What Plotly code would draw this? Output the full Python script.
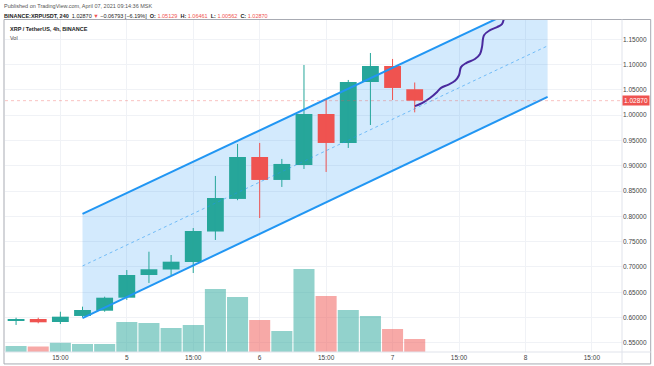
import plotly.graph_objects as go

# ---- data (4h candles, XRP/USDT, Binance) ----
idx = list(range(19))
opens  = [0.5943, 0.5972, 0.5913, 0.6032, 0.6136, 0.6393, 0.6842, 0.6950, 0.7099, 0.7701,
          0.8345, 0.9174, 0.8720, 0.9016, 1.0024, 0.9451, 1.0656, 1.0972, 1.05129]
highs  = [0.5998, 0.5998, 0.6116, 0.6216, 0.6413, 0.6940, 0.7302, 0.7237, 0.7770, 0.8799,
          0.9431, 0.9451, 0.9135, 1.0992, 1.0300, 1.0696, 1.1229, 1.1111, 1.06461]
lows   = [0.5854, 0.5887, 0.5873, 0.6010, 0.6116, 0.6348, 0.6684, 0.6840, 0.6881, 0.7534,
          0.8320, 0.7968, 0.8582, 0.8937, 0.8878, 0.9352, 0.9806, 1.0300, 1.00562]
closes = [0.5962, 0.5907, 0.6018, 0.6150, 0.6393, 0.6842, 0.6955, 0.7105, 0.7711, 0.8364,
          0.9174, 0.8720, 0.9036, 1.0024, 0.9451, 1.0656, 1.0972, 1.0538, 1.02870]
volumes = [60, 55, 92, 80, 80, 300, 290, 240, 270, 630,
           550, 320, 210, 830, 560, 420, 360, 230, 130]   # millions

# channel (start / end candle index, lower, middle, upper prices)
chan_x = [3, 24]
chan_lower = [0.599, 1.036]
chan_mid = [0.702, 1.137]
chan_upper = [0.805, 1.238]

# projected path
path_x = [18.01, 18.33, 18.69, 19.01, 19.19, 19.50, 19.82, 20.00, 20.09, 20.32,
          20.72, 20.95, 21.04, 21.13, 21.40, 21.72, 21.94, 22.03]
path_y = [1.018, 1.024, 1.034, 1.046, 1.054, 1.060, 1.068, 1.079, 1.095, 1.103,
          1.111, 1.121, 1.135, 1.158, 1.168, 1.174, 1.180, 1.192]

last_price = 1.02870
x_tickvals = [2, 5, 8, 11, 14, 17, 20, 23, 26]
x_ticktext = ["15:00", "5", "15:00", "6", "15:00", "7", "15:00", "8", "15:00"]

GREEN = "#26a69a"
RED = "#ef5350"
BLUE = "#2196f3"
FONT = "Liberation Sans"
Y_RANGE = [0.532, 1.1881]

up = [c >= o for o, c in zip(opens, closes)]
vol_colors = ["rgba(38,166,154,0.5)" if u else "rgba(239,83,80,0.5)" for u in up]
body_colors = [GREEN if u else RED for u in up]
body_size = [max(abs(c - o), 0.0012) for o, c in zip(opens, closes)]
body_base = [min(o, c) for o, c in zip(opens, closes)]


def wick_xy(want_up):
    xs, ys = [], []
    for i, u, lo, hi in zip(idx, up, lows, highs):
        if u == want_up:
            xs += [i, i, None]
            ys += [lo, hi, None]
    return xs, ys


fig = go.Figure()

# channel fill (bottom layer, main y axis)
fig.add_trace(go.Scatter(
    x=[chan_x[0], chan_x[1], chan_x[1], chan_x[0], chan_x[0]],
    y=[chan_lower[0], chan_lower[1], chan_upper[1], chan_upper[0], chan_lower[0]],
    fill="toself", fillcolor="rgba(33,150,243,0.2)", mode="lines",
    line=dict(width=0), hoverinfo="skip", showlegend=False))

# volume
fig.add_trace(go.Bar(x=idx, y=volumes, marker=dict(color=vol_colors, line=dict(width=0)),
                     width=0.95, yaxis="y2", showlegend=False, hoverinfo="skip"))

# candle bodies + wicks (overlay axis so they sit above the fill)
fig.add_trace(go.Bar(x=idx, y=body_size, base=body_base, width=0.76, yaxis="y3",
                     marker=dict(color=body_colors, line=dict(width=0)),
                     showlegend=False, hoverinfo="skip"))
for want, col in ((True, GREEN), (False, RED)):
    wx, wy = wick_xy(want)
    fig.add_trace(go.Scatter(x=wx, y=wy, mode="lines", yaxis="y3",
                             line=dict(color=col, width=1), showlegend=False, hoverinfo="skip"))

# channel lines
fig.add_trace(go.Scatter(x=chan_x, y=chan_upper, mode="lines", yaxis="y3",
                         line=dict(color=BLUE, width=2), showlegend=False, hoverinfo="skip"))
fig.add_trace(go.Scatter(x=chan_x, y=chan_lower, mode="lines", yaxis="y3",
                         line=dict(color=BLUE, width=2), showlegend=False, hoverinfo="skip"))
fig.add_trace(go.Scatter(x=chan_x, y=chan_mid, mode="lines", yaxis="y3",
                         line=dict(color="rgba(33,150,243,0.55)", width=1, dash="dot"),
                         showlegend=False, hoverinfo="skip"))

# projection
fig.add_trace(go.Scatter(x=path_x, y=path_y, mode="lines", yaxis="y3",
                         line=dict(color="#4a2a9e", width=2, shape="spline", smoothing=1.0),
                         showlegend=False, hoverinfo="skip"))

fig.update_layout(
    width=654, height=366,
    margin=dict(l=5, r=32, t=20, b=14),
    paper_bgcolor="white", plot_bgcolor="white",
    font=dict(family=FONT, size=7, color="#333"),
    barmode="overlay",
    xaxis=dict(range=[-0.5, 27.36], tickvals=x_tickvals, ticktext=x_ticktext,
               showgrid=True, gridcolor="#f0f2f6", zeroline=False, showline=False,
               tickfont=dict(size=6.5, color="#444"), ticks="", fixedrange=True),
    yaxis=dict(range=Y_RANGE, side="right", dtick=0.05, tick0=0.55,
               tickformat=".5f", showgrid=True, gridcolor="#f0f2f6", zeroline=False,
               tickfont=dict(size=6.5, color="#444"), ticks="", fixedrange=True),
    yaxis2=dict(range=[0, 3320], overlaying="y", visible=False, fixedrange=True),
    yaxis3=dict(range=Y_RANGE, overlaying="y", visible=False, fixedrange=True),
)

# current price line
fig.add_shape(type="line", xref="paper", yref="y", x0=0, x1=1, y0=last_price, y1=last_price,
              line=dict(color="rgba(239,83,80,0.35)", width=1, dash="dot"))

# frame & separators
fig.add_shape(type="rect", xref="paper", yref="paper", x0=-0.0016, x1=1.0465, y0=-0.036, y1=1.0015,
              line=dict(color="#a8abb3", width=1))
fig.add_shape(type="line", xref="paper", yref="paper", x0=1.0, x1=1.0, y0=-0.036, y1=1.0015,
              line=dict(color="#e0e3eb", width=1))
fig.add_shape(type="line", xref="paper", yref="paper", x0=-0.0016, x1=1.0465, y0=0, y1=0,
              line=dict(color="#e0e3eb", width=1))

# price label
fig.add_annotation(x=1.0, xref="paper", y=last_price, yref="y", xanchor="left", yanchor="middle",
                   text="1.02870", showarrow=False, bgcolor=RED, borderpad=1,
                   font=dict(color="white", size=6.5, family=FONT))

# header texts
fig.add_annotation(x=-0.005, xref="paper", y=1.043, yref="paper", xanchor="left", yanchor="middle",
                   text="Published on TradingView.com, April 07, 2021 09:14:36 MSK",
                   showarrow=False, font=dict(size=5.5, color="#555", family=FONT))
line2 = ("<b>BINANCE:XRPUSDT, 240</b>  1.02870 <span style='color:#ef5350'>▼</span> "
         "−0.06793 [−6.19%]  <b>O:</b> <span style='color:#ef5350'>1.05129</span>  "
         "<b>H:</b> <span style='color:#ef5350'>1.06461</span>  "
         "<b>L:</b> <span style='color:#ef5350'>1.00562</span>  "
         "<b>C:</b> <span style='color:#ef5350'>1.02870</span>")
fig.add_annotation(x=-0.005, xref="paper", y=1.013, yref="paper", xanchor="left", yanchor="middle",
                   text=line2, showarrow=False, font=dict(size=5.5, color="#222", family=FONT))
fig.add_annotation(x=0.005, xref="paper", y=0.973, yref="paper", xanchor="left", yanchor="middle",
                   text="<b>XRP / TetherUS, 4h, BINANCE</b>", showarrow=False,
                   font=dict(size=5.5, color="#222", family=FONT))
fig.add_annotation(x=0.005, xref="paper", y=0.946, yref="paper", xanchor="left", yanchor="middle",
                   text="Vol", showarrow=False, font=dict(size=5.5, color="#444", family=FONT))

fig.write_html("out.html")
